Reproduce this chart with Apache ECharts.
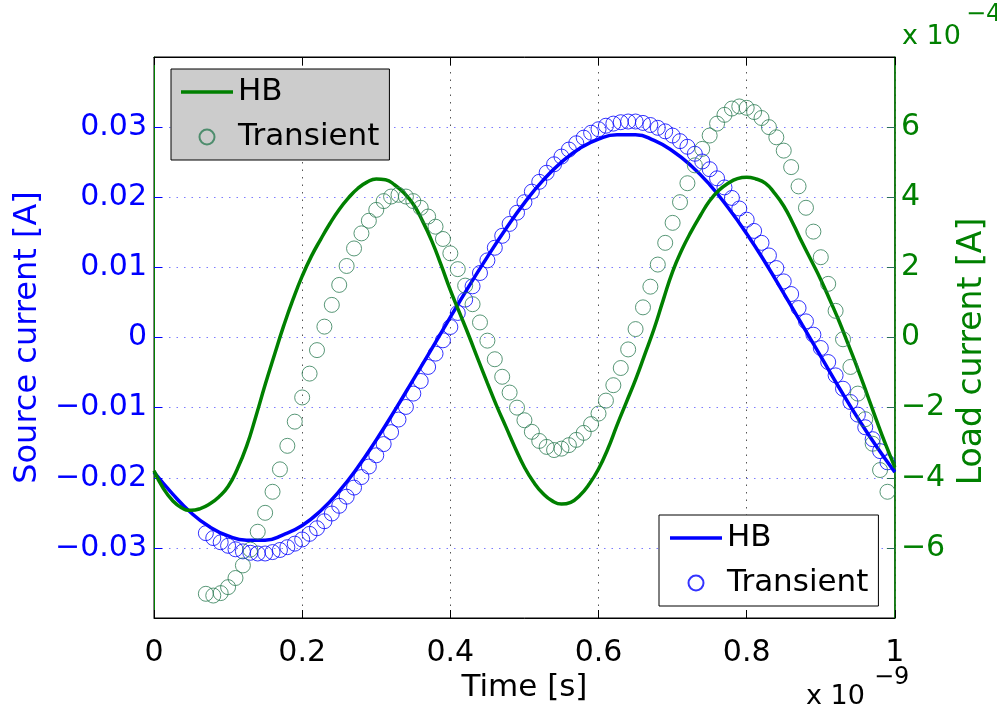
<!DOCTYPE html>
<html>
<head>
<meta charset="utf-8">
<script src="https://cdn.jsdelivr.net/npm/echarts@6/dist/echarts.min.js"></script>
<style>
html,body{margin:0;padding:0;background:#fff;}
#chart{width:997px;height:712px;}
</style>
</head>
<body>
<div id="chart"></div>
<script>
// Time axis ticks (units of 1e-9 s)
const xTicks = [0, 0.2, 0.4, 0.6, 0.8, 1];
// HB sample times for source current
const tSrcHB = [0,0.025,0.05,0.075,0.1,0.125,0.15,0.175,0.2,0.225,0.25,0.275,0.3,0.325,0.35,0.375,0.4,0.425,0.45,0.475,0.5,0.525,0.55,0.575,0.6,0.625,0.65,0.675,0.7,0.725,0.75,0.775,0.8,0.825,0.85,0.875,0.9,0.925,0.95,0.975,1];
// Source current HB [A]
const sourceHB = [-0.0192,-0.0223,-0.0250,-0.0270,-0.0283,-0.0289,-0.0289,-0.0281,-0.0268,-0.0247,-0.0219,-0.0185,-0.0146,-0.0104,-0.0060,-0.0016,0.0029,0.0073,0.0115,0.0155,0.0192,0.0224,0.0250,0.0270,0.0283,0.0289,0.0289,0.0281,0.0266,0.0245,0.0218,0.0185,0.0148,0.0107,0.0063,0.0018,-0.0027,-0.0072,-0.0115,-0.0155,-0.0192];
// HB sample times for load current
const tLoadHB = [0,0.0125,0.025,0.0375,0.05,0.0625,0.075,0.0875,0.1,0.1125,0.125,0.1375,0.15,0.1625,0.175,0.1875,0.2,0.2125,0.225,0.2375,0.25,0.2625,0.275,0.2875,0.3,0.3125,0.325,0.3375,0.35,0.3625,0.375,0.3875,0.4,0.4125,0.425,0.4375,0.45,0.4625,0.475,0.4875,0.5,0.5125,0.525,0.5375,0.55,0.5625,0.575,0.5875,0.6,0.6125,0.625,0.6375,0.65,0.6625,0.675,0.6875,0.7,0.7125,0.725,0.7375,0.75,0.7625,0.775,0.7875,0.8,0.8125,0.825,0.8375,0.85,0.8625,0.875,0.8875,0.9,0.9125,0.925,0.9375,0.95,0.9625,0.975,0.9875,1];
// Load current HB [x 1e-4 A]
const loadHB = [-3.8,-4.3,-4.65,-4.86,-4.93,-4.88,-4.75,-4.55,-4.25,-3.75,-3.1,-2.25,-1.35,-0.5,0.33,1.08,1.75,2.32,2.8,3.25,3.65,3.98,4.25,4.43,4.52,4.5,4.35,4.12,3.8,3.32,2.75,2.07,1.35,0.7,0.05,-0.63,-1.3,-1.95,-2.55,-3.15,-3.7,-4.13,-4.45,-4.66,-4.75,-4.7,-4.5,-4.18,-3.75,-3.18,-2.5,-1.85,-1.2,-0.48,0.25,1.08,1.88,2.5,3.02,3.48,3.9,4.2,4.4,4.53,4.57,4.52,4.4,4.12,3.75,3.25,2.7,2.18,1.65,1.06,0.45,-0.22,-0.9,-1.62,-2.35,-3.05,-3.7];
// Transient sample times
const tTrans = [0.07,0.08,0.09,0.10,0.11,0.12,0.13,0.14,0.15,0.16,0.17,0.18,0.19,0.20,0.21,0.22,0.23,0.24,0.25,0.26,0.27,0.28,0.29,0.30,0.31,0.32,0.33,0.34,0.35,0.36,0.37,0.38,0.39,0.40,0.41,0.42,0.43,0.44,0.45,0.46,0.47,0.48,0.49,0.50,0.51,0.52,0.53,0.54,0.55,0.56,0.57,0.58,0.59,0.60,0.61,0.62,0.63,0.64,0.65,0.66,0.67,0.68,0.69,0.70,0.71,0.72,0.73,0.74,0.75,0.76,0.77,0.78,0.79,0.80,0.81,0.82,0.83,0.84,0.85,0.86,0.87,0.88,0.89,0.90,0.91,0.92,0.93,0.94,0.95,0.96,0.97,0.98,0.99];
// Source current transient [A]
const sourceTrans = [-0.0279,-0.0286,-0.0292,-0.0297,-0.0302,-0.0305,-0.0307,-0.0308,-0.0308,-0.0306,
-0.0303,-0.0299,-0.0294,-0.0288,-0.0280,-0.0272,-0.0262,-0.0251,-0.0240,-0.0227,
-0.0214,-0.0199,-0.0184,-0.0168,-0.0152,-0.0135,-0.0117,-0.0099,-0.0080,-0.0062,
-0.0042,-0.0023,-0.0004,0.0015,0.0035,0.0054,0.0073,0.0092,0.0110,0.0128,
0.0145,0.0162,0.0178,0.0193,0.0208,0.0222,0.0235,0.0247,0.0258,0.0268,
0.0277,0.0285,0.0292,0.0297,0.0302,0.0305,0.0307,0.0308,0.0308,0.0306,
0.0303,0.0299,0.0294,0.0288,0.0280,0.0272,0.0262,0.0251,0.0240,0.0227,
0.0214,0.0199,0.0184,0.0168,0.0152,0.0135,0.0117,0.0099,0.0080,0.0062,
0.0042,0.0023,0.0004,-0.0015,-0.0035,-0.0054,-0.0073,-0.0092,-0.0110,-0.0128,
-0.0145,-0.0162,-0.0178];
// Load current transient [x 1e-4 A]
const loadTrans = [-7.31,-7.36,-7.29,-7.12,-6.86,-6.5,-6.05,-5.54,-5.0,-4.4,
-3.76,-3.09,-2.4,-1.71,-1.03,-0.36,0.31,0.93,1.5,2.04,
2.54,2.97,3.33,3.64,3.89,4.02,4.07,4.02,3.89,3.70,
3.45,3.16,2.81,2.4,1.95,1.48,0.95,0.43,-0.09,-0.62,
-1.12,-1.57,-2.0,-2.36,-2.69,-2.95,-3.12,-3.21,-3.17,-3.07,
-2.92,-2.72,-2.47,-2.17,-1.8,-1.36,-0.87,-0.34,0.24,0.86,
1.45,2.08,2.70,3.27,3.86,4.4,4.91,5.38,5.76,6.1,
6.35,6.53,6.59,6.55,6.43,6.26,6.0,5.71,5.33,4.86,
4.31,3.7,3.02,2.29,1.53,0.76,-0.05,-0.84,-1.6,-2.33,
-3.03,-3.78,-4.4];

const FONT = 'DejaVu Sans';
const pair = (xs, ys) => xs.map((x, i) => [x, ys[i]]);
const minus = '\u2212';
const LINE_ICON = 'path://M0,0 M52,15 M0,5.75 L52,5.75 L52,9.25 L0,9.25 Z';

const chart = echarts.init(document.getElementById('chart'), null, {renderer: 'canvas'});
const option = {
  animation: false,
  backgroundColor: '#ffffff',
  textStyle: {fontFamily: FONT},
  grid: {left: 154, top: 57, width: 746, height: 561, show: true, borderColor: '#000', borderWidth: 1, backgroundColor: 'transparent'},
  xAxis: [{
    type: 'value', min: xTicks[0], max: xTicks[xTicks.length - 1], interval: 0.2, position: 'bottom',
    axisLine: {onZero: false, lineStyle: {color: '#000', width: 1}},
    axisTick: {inside: true, length: 8, lineStyle: {color: '#000'}},
    axisLabel: {margin: 20, fontSize: 30, color: '#000', fontFamily: FONT,
      formatter: v => (v === 0 ? '0' : (v === 1 ? '1' : String(+v.toFixed(1))))},
    splitLine: {show: true, lineStyle: {color: '#555', type: [1.5, 6], width: 1}},
    name: 'Time [s]', nameLocation: 'middle', nameGap: 47,
    nameTextStyle: {fontSize: 31, color: '#000', fontFamily: FONT}
  }, {
    type: 'value', min: 0, max: 1, interval: 0.2, position: 'top',
    axisLine: {onZero: false, lineStyle: {color: '#000', width: 1}},
    axisTick: {inside: true, length: 8, lineStyle: {color: '#000'}},
    axisLabel: {show: false}, splitLine: {show: false}
  }],
  yAxis: [{
    type: 'value', min: -0.04, max: 0.04, interval: 0.01, position: 'left',
    axisLine: {show: true, onZero: false, lineStyle: {color: '#008000', width: 1}},
    axisTick: {show: true, inside: true, length: 8, lineStyle: {color: '#0000ff'}},
    axisLabel: {margin: 7, fontSize: 30, color: '#0000ff', fontFamily: FONT, showMinLabel: false, showMaxLabel: false,
      formatter: v => (Math.abs(v) < 1e-9 ? '0' : (v < 0 ? minus : '') + Math.abs(v).toFixed(2))},
    splitLine: {show: true, lineStyle: {color: '#7b7bff', type: [1.5, 6], width: 1}},
    name: 'Source current [A]', nameLocation: 'middle', nameRotate: 90, nameGap: 102,
    nameTextStyle: {fontSize: 32, color: '#0000ff', fontFamily: FONT}
  }, {
    type: 'value', min: -8, max: 8, interval: 2, position: 'right',
    axisLine: {show: true, onZero: false, lineStyle: {color: '#008000', width: 1.5}},
    axisTick: {show: true, inside: true, length: 8, lineStyle: {color: '#2a6b5a'}},
    axisLabel: {margin: 6, fontSize: 30, color: '#008000', fontFamily: FONT, showMinLabel: false, showMaxLabel: false,
      formatter: v => (v === 0 ? '0' : (v < 0 ? minus : '') + Math.abs(v))},
    splitLine: {show: false},
    name: 'Load current [A]', nameLocation: 'middle', nameRotate: 90, nameGap: 52,
    nameTextStyle: {fontSize: 33, color: '#008000', fontFamily: FONT, padding: [0, 28, 0, 0]}
  }],
  legend: [{
    orient: 'vertical', left: 171, top: 69, selectedMode: false,
    data: [{name: 'HB_load', icon: LINE_ICON}, {name: 'Transient_load', icon: 'circle'}],
    formatter: n => n.replace('_load', ''),
    backgroundColor: '#cccccc', borderColor: '#000', borderWidth: 1, borderRadius: 0,
    padding: [5, 10, 5, 10], itemWidth: 52, itemHeight: 15, itemGap: 9,
    textStyle: {fontSize: 31, lineHeight: 36, color: '#000', fontFamily: FONT}
  }, {
    orient: 'vertical', left: 659, top: 515, selectedMode: false,
    data: [{name: 'HB', icon: LINE_ICON}, {name: 'Transient', icon: 'circle'}],
    backgroundColor: '#ffffff', borderColor: '#000', borderWidth: 1, borderRadius: 0,
    padding: [5, 10, 5, 11], itemWidth: 52, itemHeight: 15, itemGap: 9,
    textStyle: {fontSize: 31, lineHeight: 36, color: '#000', fontFamily: FONT}
  }],
  series: [{
    name: 'HB', type: 'line', xAxisIndex: 0, yAxisIndex: 0, data: pair(tSrcHB, sourceHB),
    smooth: 0.5, symbol: 'none', showSymbol: false, lineStyle: {color: '#0000ff', width: 3.5}, itemStyle: {color: '#0000ff'}, z: 2
  }, {
    name: 'Transient', type: 'scatter', xAxisIndex: 0, yAxisIndex: 0, data: pair(tTrans, sourceTrans),
    symbol: 'circle', symbolSize: 15,
    itemStyle: {color: 'rgba(0,0,0,0)', borderColor: '#0000ff', borderWidth: 1}, z: 3
  }, {
    name: 'HB_load', type: 'line', xAxisIndex: 0, yAxisIndex: 1, data: pair(tLoadHB, loadHB),
    smooth: 0.5, symbol: 'none', showSymbol: false, lineStyle: {color: '#008000', width: 3.5}, itemStyle: {color: '#008000'}, z: 4
  }, {
    name: 'Transient_load', type: 'scatter', xAxisIndex: 0, yAxisIndex: 1, data: pair(tTrans, loadTrans),
    symbol: 'circle', symbolSize: 15,
    itemStyle: {color: 'rgba(0,0,0,0)', borderColor: '#2e7d55', borderWidth: 1}, z: 5
  }],
  graphic: [
    {type: 'text', left: 902, top: 23, style: {text: 'x 10', font: '27px "DejaVu Sans"', fill: '#008000'}},
    {type: 'text', left: 966, top: 3, style: {text: minus + '4', font: '24px "DejaVu Sans"', fill: '#008000'}},
    {type: 'text', left: 806, top: 683, style: {text: 'x 10', font: '27px "DejaVu Sans"', fill: '#000'}},
    {type: 'text', left: 874, top: 666, style: {text: minus + '9', font: '24px "DejaVu Sans"', fill: '#000'}}
  ]
};
chart.setOption(option);
</script>
</body>
</html>
